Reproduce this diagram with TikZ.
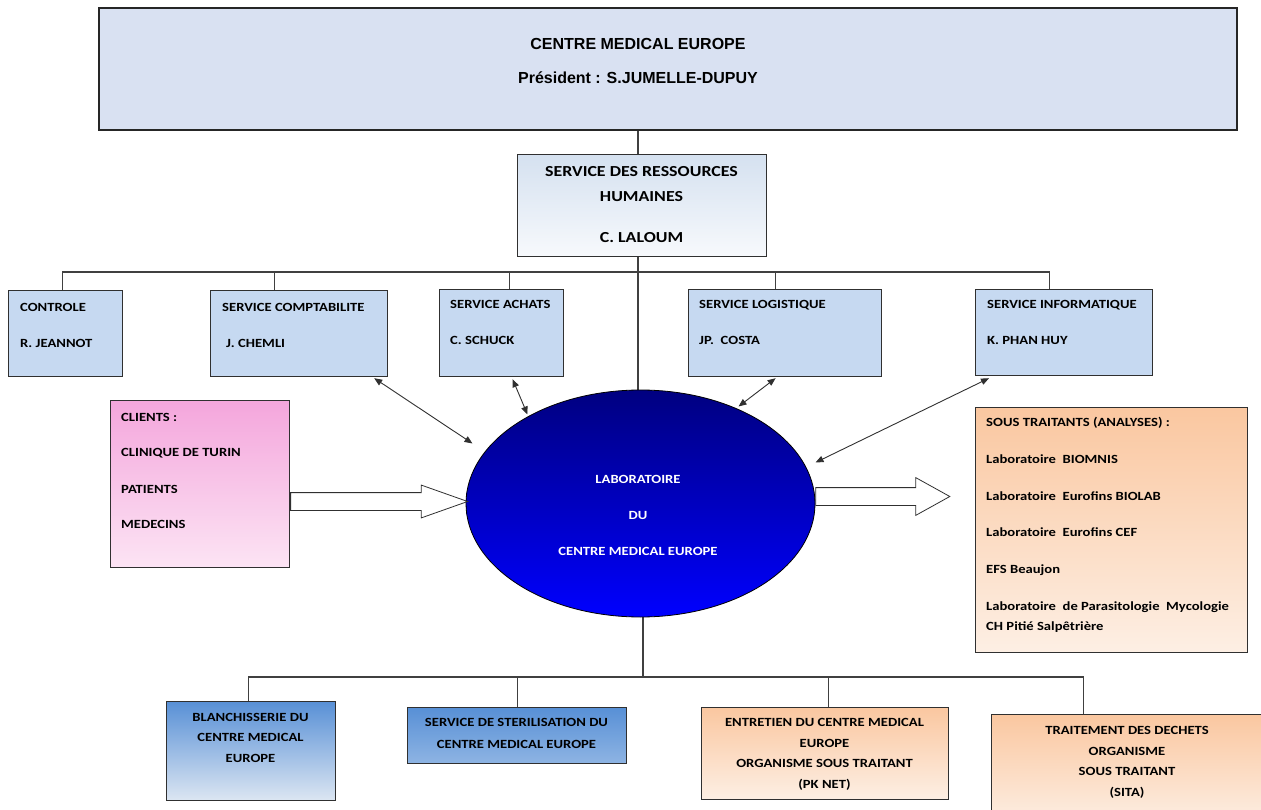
\documentclass[tikz,border=0pt]{standalone}
\usepackage{fontspec}
\setmainfont{Carlito}[FakeStretch=1.17]
\newfontfamily\arialfont{Liberation Sans}
\usepackage{tikz}
\usetikzlibrary{shapes, arrows.meta, calc, backgrounds}
\pgfdeclarelayer{background}
\pgfsetlayers{background,main}

\definecolor{topFill}{HTML}{D9E1F2}
\definecolor{svcFill}{HTML}{C6D9F1}
\definecolor{hrTop}{HTML}{D5E1F0}
\definecolor{hrBot}{HTML}{F7F9FC}
\definecolor{labTop}{HTML}{000080}
\definecolor{labBot}{HTML}{0000FF}
\definecolor{pinkTop}{HTML}{F4A6DC}
\definecolor{pinkBot}{HTML}{FCE4F4}
\definecolor{peachTop}{HTML}{FAC7A0}
\definecolor{peachBot}{HTML}{FDEFE4}
\definecolor{blueTop}{HTML}{5890D6}
\definecolor{blueBot}{HTML}{DCE6F2}
\definecolor{blueMid}{HTML}{8EB4E3}
\definecolor{boxLine}{HTML}{303030}
\definecolor{treeLine}{HTML}{404040}

\begin{document}
\begin{tikzpicture}[x=1pt, y=-1pt]

    \useasboundingbox (0,0) rectangle (1261,810);

    % Boxes
    \tikzset{box/.style={draw=boxLine, line width=1.2pt, inner sep=0pt, anchor=north west}}
    \tikzset{topB/.style={box, fill=topFill, line width=1.8pt, draw=black!85}}
    \tikzset{hrB/.style={box, top color=hrTop, bottom color=hrBot}}
    \tikzset{svcB/.style={box, fill=svcFill}}
    \tikzset{cliB/.style={box, top color=pinkTop, bottom color=pinkBot}}
    \tikzset{subB/.style={box, top color=peachTop, bottom color=peachBot}}
    \tikzset{bluB/.style={box, top color=blueTop, bottom color=blueBot}}
    \tikzset{labE/.style={ellipse, draw=black, line width=0.8pt, inner sep=0pt,
        top color=labTop, bottom color=labBot, minimum width=349pt, minimum height=227pt}}

    % Texts
    \tikzset{txt/.style={inner sep=0pt, anchor=north west, align=left,
        font=\fontsize{12.5}{15}\selectfont\bfseries}}
    \tikzset{ctxt/.style={txt, anchor=north, align=center}}

    % Connectors
    \tikzset{tree/.style={draw=treeLine, line width=1.2pt}}
    \tikzset{link/.style={draw=boxLine, line width=0.9pt,
        {Triangle[length=8pt,width=6.5pt]}-{Triangle[length=8pt,width=6.5pt]}}}
    \tikzset{bigArrow/.style={single arrow, draw=boxLine, fill=white, line width=0.8pt,
        inner xsep=0pt, inner ysep=8.5pt, anchor=west}}

    % Top of the chart
    \node (top) [topB, minimum width=1138pt, minimum height=122pt] at (98, 7) {};
        \node (topT) [ctxt, font=\arialfont\fontsize{16}{34}\selectfont\bfseries] at (638, 38)
            {CENTRE MEDICAL EUROPE\\Président : S.JUMELLE-DUPUY};
    \node (hr) [hrB, minimum width=249pt, minimum height=102pt] at (517, 154) {};
        \node (hrT) [ctxt, font=\fontsize{15.3}{25}\selectfont\bfseries] at (641.5, 166)
            {SERVICE DES RESSOURCES\\HUMAINES\\[16pt]C. LALOUM};

    % Services
    \node (controle) [svcB, minimum width=114pt, minimum height=86pt] at (8, 290) {};
        \node (controleT) [txt] at ($(controle.north west)+(12,13)$) {CONTROLE\\[21pt]R. JEANNOT};
    \node (compta) [svcB, minimum width=177pt, minimum height=86pt] at (210, 290) {};
        \node (comptaT) [txt] at ($(compta.north west)+(12,13)$) {SERVICE COMPTABILITE\\[21pt]\hspace*{4pt}J. CHEMLI};
    \node (achats) [svcB, minimum width=124pt, minimum height=87pt] at (439, 289) {};
        \node (achatsT) [txt] at ($(achats.north west)+(11,11)$) {SERVICE ACHATS\\[21pt]C. SCHUCK};
    \node (logist) [svcB, minimum width=193pt, minimum height=87pt] at (688, 289) {};
        \node (logistT) [txt] at ($(logist.north west)+(11,11)$) {SERVICE LOGISTIQUE\\[21pt]JP.\ \ COSTA};
    \node (info) [svcB, minimum width=177pt, minimum height=86pt] at (975, 289) {};
        \node (infoT) [txt] at ($(info.north west)+(12,11)$) {SERVICE INFORMATIQUE\\[21pt]K. PHAN HUY};

    % Laboratory
    \node (lab) [labE] at (640.5, 503.5) {};
        \node (labT) [ctxt, text=white] at (638, 475) {LABORATOIRE\\[21pt]DU\\[21pt]CENTRE MEDICAL EUROPE};

    % Clients and sub-contractors
    \node (clients) [cliB, minimum width=179pt, minimum height=167pt] at (110, 400) {};
        \node (clientsT) [txt] at ($(clients.north west)+(11,13)$)
            {CLIENTS :\\[20pt]CLINIQUE DE TURIN\\[22pt]PATIENTS\\[20pt]MEDECINS};
    \node (sous) [subB, minimum width=272pt, minimum height=245pt] at (975, 407) {};
        \node (sousT) [txt, font=\fontsize{12.5}{20}\selectfont\bfseries] at ($(sous.north west)+(11,10)$)
            {SOUS TRAITANTS (ANALYSES) :\\[17pt]Laboratoire\ \ BIOMNIS\\[17pt]Laboratoire\ \ Eurofins BIOLAB\\[16pt]%
             Laboratoire\ \ Eurofins CEF\\[17pt]EFS Beaujon\\[17pt]Laboratoire\ \ de Parasitologie\ \ Mycologie\\CH Pitié Salpêtrière};

    % Bottom services
    \node (blanch) [bluB, minimum width=169pt, minimum height=99pt] at (166, 701) {};
        \node (blanchT) [ctxt, font=\fontsize{12.5}{20.5}\selectfont\bfseries] at (250.5, 713)
            {BLANCHISSERIE DU\\CENTRE MEDICAL\\EUROPE};
    \node (steril) [box, top color=blueTop, bottom color=blueMid, minimum width=219pt, minimum height=56pt] at (407, 707) {};
        \node (sterilT) [ctxt, font=\fontsize{12.5}{22}\selectfont\bfseries] at (516.5, 718)
            {SERVICE DE STERILISATION DU\\CENTRE MEDICAL EUROPE};
    \node (entre) [subB, minimum width=247pt, minimum height=92pt] at (701, 707) {};
        \node (entreT) [ctxt, font=\fontsize{12.5}{20.7}\selectfont\bfseries] at (824.5, 718)
            {ENTRETIEN DU CENTRE MEDICAL\\EUROPE\\ORGANISME SOUS TRAITANT\\(PK NET)};
    \node (dechet) [subB, minimum width=272pt, minimum height=110pt] at (991, 714) {};
        \node (dechetT) [ctxt, font=\fontsize{12.5}{20.7}\selectfont\bfseries] at (1127, 726)
            {TRAITEMENT DES DECHETS\\ORGANISME\\SOUS TRAITANT\\(SITA)};

    % Tree lines
    \coordinate (busTop) at (638, 272);
    \coordinate (busBot) at (643, 677);
    \begin{pgfonlayer}{background}
        \path[tree] (top.south -| busTop) -- (lab.north -| busTop);
            \path[tree] (busTop) -| ($(controle.north)+(-3,0)$);
            \path[tree] (busTop) -| ($(compta.north)+(-24.5,0)$);
            \path[tree] (busTop) -| ($(achats.north)+(8,0)$);
            \path[tree] (busTop) -| ($(logist.north)+(-9.5,0)$);
            \path[tree] (busTop) -| ($(info.north)+(-14.5,0)$);
        \path[tree] (lab.south -| busBot) -- (busBot);
            \path[tree] (busBot) -| ($(blanch.north)+(-2.5,0)$);
            \path[tree] (busBot) -| ($(steril.north)+(0.5,0)$);
            \path[tree] (busBot) -| ($(entre.north)+(3.5,0)$);
            \path[tree] (busBot) -| ($(dechet.north)+(-44,0)$);
    \end{pgfonlayer}

    % Links with the laboratory
    \path[link] ($(compta.south east)+(-14,1)$) -- ($(lab.center)+(-168,-60)$);
    \path[link] ($(achats.south)+(11,2)$) -- ($(lab.center)+(-113,-89)$);
    \path[link] ($(logist.south)+(-9.5,1)$) -- ($(lab.center)+(98,-97)$);
    \path[link] ($(info.south west)+(14,2)$) -- ($(lab.center)+(175,-41)$);

    % Flows
    \node (inFlow) [bigArrow, minimum height=177pt, single arrow head extend=7.5pt,
        single arrow tip angle=39] at ($(clients.north east)+(0,101.5)$) {};
    \node (outFlow) [bigArrow, minimum height=134pt, single arrow head extend=10pt,
        single arrow tip angle=58] at ($(lab.east)+(0,-7)$) {};

\end{tikzpicture}
\end{document}
